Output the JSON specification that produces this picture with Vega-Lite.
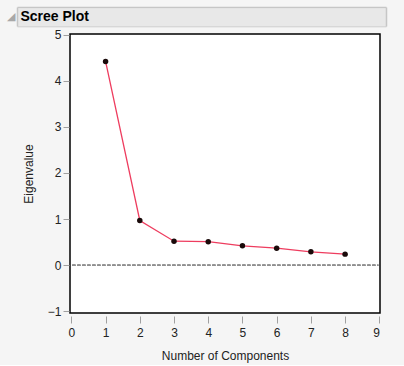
{
  "$schema": "https://vega.github.io/schema/vega-lite/v6.json",
  "background": "#f5f5f5",
  "padding": {"left": 6, "top": 6, "right": 18, "bottom": 3},
  "spacing": 0,
  "config": {
    "font": "Liberation Sans",
    "view": {"stroke": null}
  },
  "vconcat": [
    {
      "width": 316,
      "height": 19,
      "view": {"fill": null, "stroke": null},
      "data": {"values": [{"section": "Scree Plot"}]},
      "layer": [
        {
          "mark": {"type": "point", "opacity": 0},
          "encoding": {
            "x": {"datum": 0.5, "type": "quantitative", "scale": {"domain": [0, 1]}, "axis": null},
            "y": {
              "datum": 0.5,
              "type": "quantitative",
              "scale": {"domain": [0, 1], "nice": false, "zero": false},
              "axis": {
                "orient": "left",
                "offset": 53,
                "values": [0, 0.5, 1],
                "grid": false,
                "labels": true,
                "labelExpr": "datum.value === 0.5 ? 'Scree Plot' : ''",
                "labelAlign": "left",
                "labelBaseline": "middle",
                "labelPadding": 366,
                "labelFont": "Liberation Sans",
                "labelFontSize": {"condition": {"test": "datum.value === 0.5", "value": 14}, "value": 0},
                "labelFontWeight": "bold",
                "labelColor": "#000000",
                "labelOverlap": false,
                "labelFlush": false,
                "labelBound": false,
                "domain": true,
                "domainColor": "#c6c6c6",
                "domainWidth": 1.5,
                "tickSize": -369,
                "tickColor": {"condition": {"test": "datum.value === 0.5", "value": "#e8e8e8"}, "value": "#c6c6c6"},
                "tickWidth": {"condition": {"test": "datum.value === 0.5", "value": 18}, "value": 1.5},
                "title": "◢",
                "titleAngle": 0,
                "titleAlign": "right",
                "titleBaseline": "middle",
                "titleFont": "DejaVu Sans",
                "titleFontSize": 11,
                "titleFontWeight": "normal",
                "titleColor": "#a8a8a8",
                "titlePadding": -7
              }
            }
          }
        },
        {
          "mark": {"type": "point", "opacity": 0},
          "encoding": {
            "x": {"datum": 0.5, "type": "quantitative", "scale": {"domain": [0, 1]}, "axis": null},
            "y": {
              "datum": 0.5,
              "type": "quantitative",
              "scale": {"domain": [0, 1], "nice": false, "zero": false},
              "axis": {
                "orient": "right",
                "grid": false,
                "labels": false,
                "ticks": false,
                "domain": true,
                "domainColor": "#c6c6c6",
                "domainWidth": 1.5,
                "title": null
              }
            }
          }
        }
      ],
      "resolve": {"scale": {"y": "independent"}, "axis": {"y": "independent"}}
    },
    {
      "width": 310,
      "height": 279,
      "view": {"fill": "#ffffff", "stroke": "#000000", "strokeWidth": 1.5},
      "data": {
        "values": [
          {"Component": 1, "Eigenvalue": 4.42},
          {"Component": 2, "Eigenvalue": 0.97},
          {"Component": 3, "Eigenvalue": 0.52},
          {"Component": 4, "Eigenvalue": 0.51},
          {"Component": 5, "Eigenvalue": 0.42},
          {"Component": 6, "Eigenvalue": 0.37},
          {"Component": 7, "Eigenvalue": 0.29},
          {"Component": 8, "Eigenvalue": 0.24}
        ]
      },
      "encoding": {
        "x": {
          "field": "Component",
          "type": "quantitative",
          "scale": {"domain": [-0.04, 9.02], "nice": false, "zero": false},
          "axis": {
            "title": "Number of Components",
            "values": [0, 1, 2, 3, 4, 5, 6, 7, 8, 9],
            "grid": false,
            "domain": false,
            "offset": 3,
            "tickSize": 7,
            "tickColor": "#a0a0a0",
            "labelPadding": 4,
            "labelFontSize": 12,
            "labelColor": "#222222",
            "titleFontSize": 12,
            "titleFontWeight": "normal",
            "titleColor": "#222222",
            "titlePadding": 12
          }
        },
        "y": {
          "field": "Eigenvalue",
          "type": "quantitative",
          "scale": {"domain": [-1.037, 5.015], "nice": false, "zero": false},
          "axis": {
            "title": "Eigenvalue",
            "values": [-1, 0, 1, 2, 3, 4, 5],
            "grid": false,
            "domain": false,
            "offset": 1,
            "tickSize": 6,
            "tickColor": "#a0a0a0",
            "labelPadding": 2,
            "labelFontSize": 12,
            "labelColor": "#222222",
            "titleFontSize": 12,
            "titleFontWeight": "normal",
            "titleColor": "#222222",
            "titlePadding": 12
          }
        }
      },
      "layer": [
        {
          "mark": {"type": "rule", "color": "#909090", "strokeDash": [3, 2], "strokeWidth": 1},
          "encoding": {"y": {"datum": 0}, "x": {"datum": 0.03}, "x2": {"datum": 8.97}}
        },
        {
          "mark": {"type": "line", "color": "#ee3d5f", "strokeWidth": 1.3}
        },
        {
          "mark": {"type": "point", "filled": true, "color": "#1a0a0a", "opacity": 1, "size": 30}
        }
      ]
    }
  ]
}
